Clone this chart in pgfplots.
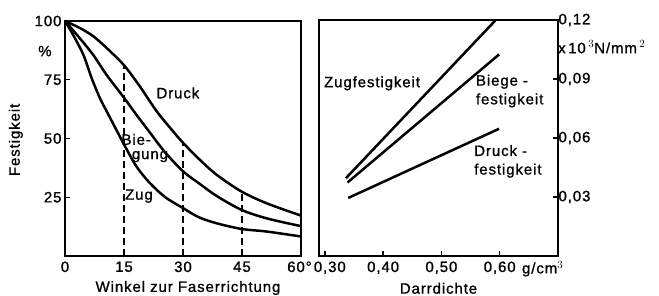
\documentclass[border=0pt]{standalone}
\usepackage{fontspec}
\setmainfont{Liberation Sans}[LetterSpace=6, FakeBold=1]
\usepackage{pgfplots}
\pgfplotsset{compat=1.18}
\newcommand\ff{\fontsize{15}{17}\selectfont}
\pgfplotsset{
  every axis/.append style={
    scale only axis, axis line style={line width=1.8pt},
    tick style={line width=1.4pt, black}, major tick length=5pt,
    tick align=inside, clip=false,
    tick label style={font=\ff}, label style={font=\ff},
    xticklabel style={yshift=-2pt},
    /pgf/number format/assume math mode=true,
  },
}
\begin{document}
\begin{tikzpicture}[font=\ff]
\useasboundingbox (0,0) rectangle (659pt,296pt);
% left chart
\begin{axis}[at={(65pt,40pt)}, anchor=south west, width=236pt, height=235pt,
  xmin=0, xmax=60, ymin=0, ymax=100,
  xtick={0,15,30,45,60}, xticklabels={0,15,30,45,{\hspace*{-3pt}60°}},
  ytick={25,50,75,100},
  xtick pos=bottom, ytick pos=left,
  xlabel={Winkel zur Faserrichtung}, xlabel style={yshift=-2pt, xshift=5pt},
  ]
\addplot[black, line width=2.5pt, smooth] coordinates {(0,100)(3.8,97)(7.2,93.5)(10.6,88.5)(15.1,81)(19.1,72)(23.3,61.6)(27.5,53)(30.1,48)(34.3,40.9)(38.6,34.5)(44.9,27.4)(51.3,22.4)(60,17.2)};
\addplot[black, line width=2.5pt, smooth] coordinates {(0,100)(3.8,92.6)(7.2,85.5)(10.6,77)(14.8,67.8)(18.2,60)(21.6,52.5)(25.5,44)(30.1,35.9)(34,31)(38.6,25.5)(44.9,19.6)(51.3,16)(60,12.7)};
\addplot[black, line width=2.5pt, smooth] coordinates {(0,100)(2.1,94)(4.7,85.5)(6.8,75.6)(8.9,67.1)(11.4,59)(15,47.5)(18.2,38)(21.6,31)(25.5,25)(30.1,20.3)(34,16.5)(38.6,13.9)(44.9,11.5)(51.3,10.4)(60,8.3)};
\addplot[black, line width=1.8pt, dash pattern=on 7pt off 4pt] coordinates {(15,0)(15,81.2)};
\addplot[black, line width=1.8pt, dash pattern=on 7pt off 4pt] coordinates {(30,0)(30,48)};
\addplot[black, line width=1.8pt, dash pattern=on 7pt off 4pt] coordinates {(45,0)(45,27.3)};
\node at (axis cs:28.7,69.4) {Druck};
\node at (axis cs:18.1,49.6) {Bie-};
\node at (axis cs:21.6,42.3) {gung};
\node at (axis cs:18.8,25.5) {Zug};
\node at (axis cs:-5.1,87.2) {\%};
\node[rotate=90] at (axis cs:-12.5,49.4) {Festigkeit};
\end{axis}
% right chart
\begin{axis}[at={(319pt,40pt)}, anchor=south west, width=239pt, height=236pt,
  xmin=0.29, xmax=0.70, ymin=0, ymax=0.12,
  xtick={0.3,0.4,0.5,0.6}, ytick={0.03,0.06,0.09,0.12},
  xticklabels={{\hspace*{10pt}0,30},{0,40},{0,50},{0,60}},
  xtick pos=bottom, ytick pos=right, yticklabel pos=right,
  /pgf/number format/.cd, use comma, fixed, fixed zerofill, precision=2,
  /pgfplots/.cd,
  xlabel={Darrdichte}, xlabel style={yshift=-2pt},
  yticklabel style={xshift=-3pt},
  ]
\addplot[black, line width=2.5pt] coordinates {(0.336,0.0395)(0.592,0.1196)};
\addplot[black, line width=2.5pt] coordinates {(0.339,0.0374)(0.599,0.1025)};
\addplot[black, line width=2.5pt] coordinates {(0.340,0.0295)(0.599,0.0647)};
\node at (axis cs:0.381,0.0878) {Zugfestigkeit};
\node[anchor=west, inner sep=0pt] at (axis cs:0.559,0.0886) {Biege -};
\node[anchor=west, inner sep=0pt] at (axis cs:0.559,0.0791) {festigkeit};
\node[anchor=west, inner sep=0pt] at (axis cs:0.556,0.0536) {Druck -};
\node[anchor=west, inner sep=0pt] at (axis cs:0.556,0.0434) {festigkeit};
\node[anchor=west, inner sep=0pt] at (axis cs:0.70,0.1062) {x\,10\,$^{3}$N/mm\,$^{2}$};
\node[anchor=west, inner sep=0pt] at (axis cs:0.638,-0.0065) {g/cm$^{3}$};
\end{axis}
\end{tikzpicture}
\end{document}
